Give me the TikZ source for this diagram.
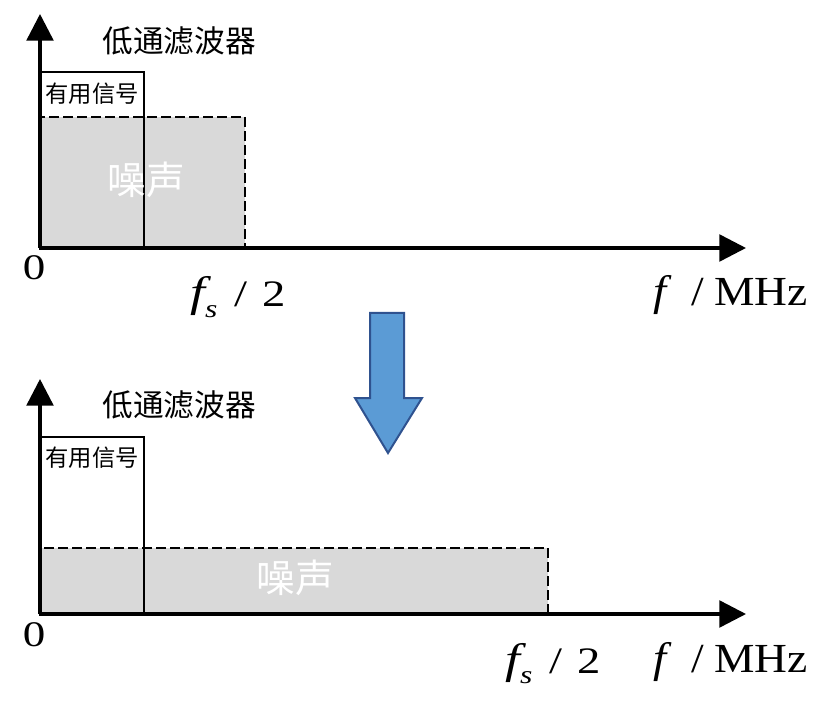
\documentclass[tikz,border=0pt]{standalone}
\usepackage{fontspec}
\setmainfont{Liberation Serif}[FakeStretch=1.1]
\newfontfamily\wideserif{Liberation Serif}[FakeStretch=1.25]
\newfontfamily\cjk{Noto Sans CJK SC}
\usetikzlibrary{arrows.meta}
\definecolor{noisegray}{HTML}{D9D9D9}
\definecolor{arrowfill}{HTML}{5B9BD5}
\definecolor{arrowline}{HTML}{2F528F}
\newcommand{\bigf}{{\fontsize{32}{36}\selectfont\itshape f}}
\newcommand{\fsub}{\raisebox{-0.28em}{\fontsize{19}{22}\selectfont\itshape s}}
\begin{document}
\begin{tikzpicture}[x=0.75pt,y=-0.75pt,
  axis/.style={line width=2.6pt,-{Triangle[length=20pt,width=20pt]}},
  noisebox/.style={fill=noisegray,draw=black,line width=1.3pt,dash pattern=on 7.5pt off 3pt},
  sigbox/.style={draw=black,line width=1.2pt},
  filtlabel/.style={font=\cjk\fontsize{23}{26}\selectfont,inner sep=0pt},
  siglabel/.style={font=\cjk\fontsize{17.5}{20}\selectfont,inner sep=0pt},
  noiselabel/.style={font=\cjk\fontsize{29}{32}\selectfont,text=white,inner sep=0pt},
  zerolabel/.style={font=\wideserif\fontsize{27}{30}\selectfont,inner sep=0pt},
  fslabel/.style={font=\wideserif\fontsize{28}{32}\selectfont,inner sep=0pt},
  unitlabel/.style={font=\fontsize{31}{36}\selectfont,inner sep=0pt},
  bigarrow/.style={fill=arrowfill,draw=arrowline,line width=1.5pt,line join=miter}]
\useasboundingbox (0,0) rectangle (823,705);
% ---------- top panel ----------
\coordinate (o1) at (40,248);
\coordinate (y1) at (40,14);
\coordinate (x1) at (746,248);
\draw[noisebox] (40,248) rectangle (245,117);
\draw[sigbox] (40,248) rectangle (144,72);
\node[noiselabel] (n1) at (146,180) {噪声};
\node[siglabel] (s1) at (92,94) {有用信号};
\node[filtlabel] (l1) at (179,41) {低通滤波器};
\draw[axis] (o1) -- (y1);
\draw[axis] ([xshift=-1pt]o1) -- (x1);
\node[zerolabel,anchor=base] (z1) at (34,280) {0};
\node[fslabel,anchor=base west] (fs1) at (190,307) {\bigf\fsub\hspace{0.45em}/\hspace{0.4em}2};
\node[unitlabel,anchor=base east] (fm1) at (808,306) {\bigf\hspace{0.6em}/\hspace{0.25em}MHz};
% ---------- big arrow ----------
\draw[bigarrow] (370,313) -- (404,313) -- (404,398) -- (422,398) -- (388,453) -- (355,398) -- (370,398) -- cycle;
% ---------- bottom panel ----------
\coordinate (o2) at (40,614);
\coordinate (y2) at (40,379);
\coordinate (x2) at (746,614);
\draw[noisebox] (40,614) rectangle (548,548);
\draw[sigbox] (40,614) rectangle (144,437);
\node[noiselabel] (n2) at (295,578) {噪声};
\node[siglabel] (s2) at (92,458) {有用信号};
\node[filtlabel] (l2) at (179,405) {低通滤波器};
\draw[axis] (o2) -- (y2);
\draw[axis] ([xshift=-1pt]o2) -- (x2);
\node[zerolabel,anchor=base] (z2) at (34,646) {0};
\node[fslabel,anchor=base west] (fs2) at (505,673) {\bigf\fsub\hspace{0.45em}/\hspace{0.4em}2};
\node[unitlabel,anchor=base east] (fm2) at (808,672) {\bigf\hspace{0.6em}/\hspace{0.25em}MHz};
\end{tikzpicture}
\end{document}
